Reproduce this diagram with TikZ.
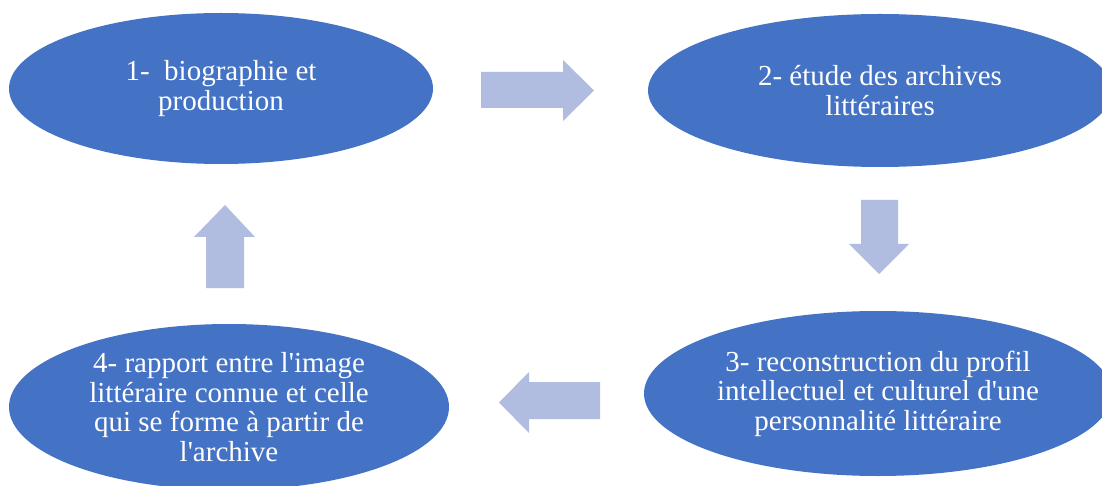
\documentclass[tikz,border=0pt]{standalone}
\usepackage{fontspec}
\setmainfont{Liberation Serif}[Ligatures=TeXOff]
\usetikzlibrary{shapes.geometric}
\definecolor{ellblue}{HTML}{4472C4}
\definecolor{arrblue}{RGB}{176,188,224}
\tikzset{
  stage/.style={ellipse, fill=ellblue, draw=none, inner sep=0pt, align=center,
    text=white, font=\fontsize{29}{29.5}\selectfont},
  blockarrow/.style={fill=arrblue, draw=none}
}
\begin{document}
\begin{tikzpicture}[x=1pt, y=-1pt]
\useasboundingbox (0,0) rectangle (1102,486);
\fill[white] (0,0) rectangle (1102,486);
\node[stage, minimum width=424pt, minimum height=151pt] (e1) at (221,88.5) {1-\ \ biographie et\\production};
\node[stage, minimum width=464pt, minimum height=153pt] (e2) at (880,90.5) {2- étude des archives\\littéraires};
\node[stage, minimum width=468pt, minimum height=165pt] (e3) at (878,393.5) {3- reconstruction du profil\\intellectuel et culturel d'une\\personnalité littéraire};
\node[stage, minimum width=440pt, minimum height=166pt] (e4) at (229,407) {4- rapport entre l'image\\littéraire connue et celle\\qui se forme à partir de\\l'archive};
% right arrow (1 -> 2)
\fill[blockarrow] (481,72) -- (563,72) -- (563,60) -- (594,90.5) -- (563,121) -- (563,108) -- (481,108) -- cycle;
% down arrow (2 -> 3)
\fill[blockarrow] (861,200) -- (898,200) -- (898,244) -- (909,244) -- (879,274) -- (849,244) -- (861,244) -- cycle;
% left arrow (3 -> 4)
\fill[blockarrow] (600,382) -- (529,382) -- (529,372) -- (499,402.5) -- (529,433) -- (529,419) -- (600,419) -- cycle;
% up arrow (4 -> 1)
\fill[blockarrow] (206,288) -- (206,237) -- (194,237) -- (225,205) -- (255,237) -- (244,237) -- (244,288) -- cycle;
\end{tikzpicture}
\end{document}
